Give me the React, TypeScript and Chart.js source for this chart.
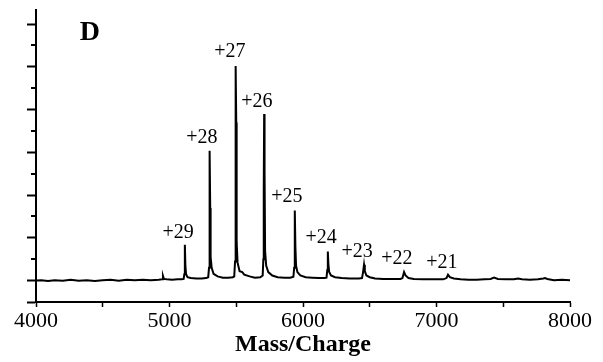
import React, { useEffect, useRef } from "react";
import { Chart, registerables } from "chart.js";

Chart.register(...registerables);

// Spectrum trace: [mass/charge, relative intensity]
const spectrum: [number, number][] = [
  [4000, 0.0], [4040, 0.01], [4090, -0.01], [4140, 0.01], [4200, 0.0], [4260, 0.02],
  [4320, 0.0], [4380, 0.01], [4440, -0.01], [4500, 0.01], [4560, 0.02], [4620, 0.0],
  [4680, 0.02], [4740, 0.01], [4800, 0.02], [4860, 0.01], [4920, 0.02],
  [4944, 0.03], [4951, 0.11], [4958, 0.04], [4980, 0.03], [5020, 0.02], [5060, 0.03], [5090, 0.03],
  [5106, 0.04], [5111, 0.15], [5114, 0.45], [5116, 0.84], [5119, 0.35], [5124, 0.15], [5135, 0.08],
  [5160, 0.06], [5200, 0.05], [5240, 0.05], [5275, 0.06],
  [5290, 0.08], [5296, 0.3], [5299, 1.3], [5302, 3.04], [5305, 1.7], [5308, 0.55], [5316, 0.3],
  [5330, 0.16], [5360, 0.1], [5400, 0.07], [5440, 0.07], [5475, 0.08],
  [5485, 0.1], [5491, 0.45], [5494, 2.3], [5497, 5.02], [5500, 3.7], [5503, 0.9], [5510, 0.42],
  [5525, 0.22], [5545, 0.2], [5560, 0.14], [5600, 0.1], [5640, 0.07], [5680, 0.08],
  [5698, 0.12], [5703, 0.5], [5706, 2.1], [5709, 3.9], [5712, 2.6], [5716, 0.7], [5724, 0.35],
  [5740, 0.2], [5770, 0.12], [5810, 0.08], [5860, 0.07], [5905, 0.07],
  [5928, 0.09], [5934, 0.3], [5937, 0.9], [5940, 1.64], [5943, 0.8], [5948, 0.35], [5958, 0.2],
  [5980, 0.12], [6020, 0.08], [6070, 0.07], [6120, 0.06], [6160, 0.06],
  [6176, 0.07], [6182, 0.25], [6185, 0.5], [6187, 0.68], [6190, 0.4], [6196, 0.2], [6210, 0.12],
  [6240, 0.08], [6290, 0.06], [6350, 0.05], [6420, 0.05],
  [6442, 0.06], [6450, 0.2], [6457, 0.37], [6463, 0.22], [6475, 0.12], [6500, 0.08], [6540, 0.05],
  [6600, 0.04], [6680, 0.04], [6730, 0.04],
  [6745, 0.06], [6757, 0.2], [6768, 0.12], [6790, 0.06], [6830, 0.04], [6900, 0.03], [6980, 0.03], [7050, 0.03],
  [7075, 0.06], [7086, 0.14], [7100, 0.08], [7130, 0.05], [7180, 0.03], [7240, 0.02], [7300, 0.02], [7360, 0.03],
  [7405, 0.04], [7431, 0.07], [7460, 0.04], [7520, 0.03], [7580, 0.03], [7611, 0.05], [7640, 0.03],
  [7700, 0.02], [7760, 0.03], [7800, 0.05], [7813, 0.06], [7830, 0.04], [7880, 0.01], [7940, 0.02], [8000, 0.01],
];

// Charge-state labels and where their text sits (data coordinates)
const peakLabels = ["+29", "+28", "+27", "+26", "+25", "+24", "+23", "+22", "+21"];
const labelMz = [5064, 5243, 5453, 5655, 5880, 6135, 6405, 6704, 7041];
const labelIntensity = [1.12, 3.34, 5.35, 4.18, 1.96, 1.0, 0.68, 0.51, 0.42];

const panelLetter = "D";
const panelLetterPos = [4404, 5.79];

const xMin = 4000;
const xMax = 8000;
const yMin = -0.5;
const yMax = 6.33;
const yMinorTicks = [0.5, 1.5, 2.5, 3.5, 4.5, 5.5];
const xTitle = "Mass/Charge";

const SERIF = "'Liberation Serif', 'Times New Roman', serif";

const isInt = (v: number) => Math.abs(v - Math.round(v)) < 1e-6;

export default function App() {
  const ref = useRef<HTMLCanvasElement | null>(null);

  useEffect(() => {
    if (!ref.current) return;

    const annotate = {
      id: "annotate",
      afterDraw(chart: any) {
        const { ctx, scales } = chart;
        const xs = scales.x;
        const ys = scales.y;
        ctx.save();
        // minor y ticks
        ctx.strokeStyle = "#000";
        ctx.lineWidth = 2;
        yMinorTicks.forEach((v) => {
          const py = Math.round(ys.getPixelForValue(v));
          ctx.beginPath();
          ctx.moveTo(ys.right - 5, py);
          ctx.lineTo(ys.right, py);
          ctx.stroke();
        });
        // peak labels
        ctx.fillStyle = "#000";
        ctx.textAlign = "center";
        ctx.textBaseline = "middle";
        ctx.font = `20px ${SERIF}`;
        peakLabels.forEach((t, i) => {
          ctx.fillText(t, xs.getPixelForValue(labelMz[i]), ys.getPixelForValue(labelIntensity[i]));
        });
        ctx.font = `bold 28px ${SERIF}`;
        ctx.fillText(panelLetter, xs.getPixelForValue(panelLetterPos[0]), ys.getPixelForValue(panelLetterPos[1]));
        ctx.restore();
      },
    };

    const chart = new Chart(ref.current, {
      type: "line",
      data: {
        datasets: [
          {
            data: spectrum.map(([x, y]) => ({ x, y })),
            borderColor: "#000",
            borderWidth: 2,
            pointRadius: 0,
            tension: 0,
            fill: false,
          },
        ],
      },
      options: {
        responsive: false,
        animation: false,
        events: [],
        layout: { padding: { top: 10, right: 33, left: 0, bottom: 0 } },
        plugins: { legend: { display: false }, tooltip: { enabled: false } },
        scales: {
          x: {
            type: "linear",
            min: xMin,
            max: xMax,
            afterFit: (s: any) => {
              s.height = 60;
            },
            border: { display: true, color: "#000", width: 2 },
            grid: {
              drawOnChartArea: false,
              drawTicks: true,
              tickLength: 5,
              tickColor: "#000",
              tickWidth: 1.5,
            },
            ticks: {
              stepSize: 500,
              maxRotation: 0,
              autoSkip: false,
              padding: 1,
              color: "#000",
              font: { family: SERIF, size: 22 },
              callback: (v: any) => (Number(v) % 1000 === 0 ? String(v) : ""),
            },
            title: {
              display: true,
              text: xTitle,
              color: "#000",
              font: { family: SERIF, size: 24, weight: "bold" },
              padding: { top: 0, bottom: 3 },
            },
          },
          y: {
            type: "linear",
            min: yMin,
            max: yMax,
            afterFit: (s: any) => {
              s.width = 36;
            },
            border: { display: true, color: "#000", width: 2 },
            grid: {
              drawOnChartArea: false,
              drawTicks: true,
              tickLength: 9,
              tickWidth: 2,
              tickColor: (c: any) =>
                c.tick && (isInt(c.tick.value) || Math.abs(c.tick.value - yMin) < 1e-6) ? "#000" : "rgba(0,0,0,0)",
            },
            ticks: {
              stepSize: 0.5,
              display: false,
            },
          },
        },
      },
      plugins: [annotate],
    });

    return () => chart.destroy();
  }, []);

  return (
    <div style={{ position: "fixed", left: 0, top: 0, width: 603, height: 362, background: "#fff" }}>
      <canvas ref={ref} width={603} height={362} style={{ display: "block" }} />
    </div>
  );
}
